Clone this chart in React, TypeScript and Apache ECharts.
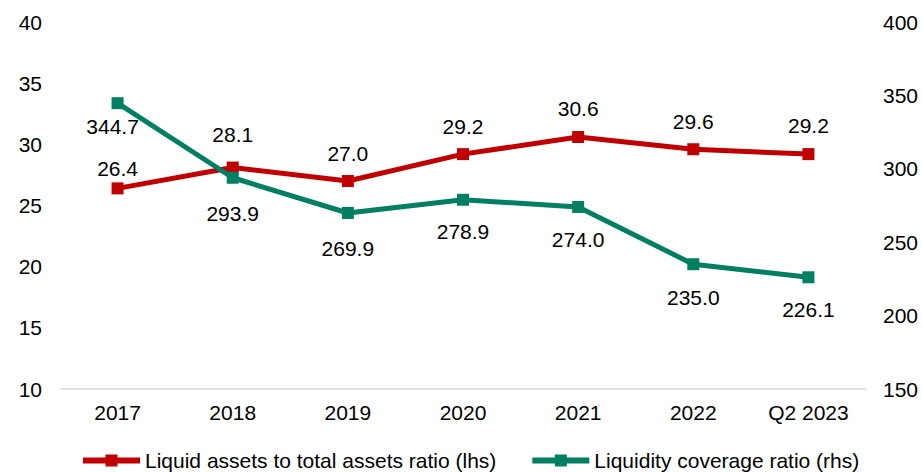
import React, { useEffect, useRef } from "react";
import * as echarts from "echarts";

const categories = ["2017", "2018", "2019", "2020", "2021", "2022", "Q2 2023"];
const liquidAssets = [26.4, 28.1, 27.0, 29.2, 30.6, 29.6, 29.2];
const lcr = [344.7, 293.9, 269.9, 278.9, 274.0, 235.0, 226.1];
const seriesNames = ["Liquid assets to total assets ratio (lhs)", "Liquidity coverage ratio (rhs)"];
const redLabelDistance = [3, 17, 11, 11, 12, 11, 12];
const greenLabelDistance = [7, 19, 19, 15, 16, 17, 16];

export default function App() {
  const ref = useRef<HTMLDivElement>(null);
  useEffect(() => {
    if (!ref.current) return;
    const chart = echarts.init(ref.current, undefined, { renderer: "svg" });
    const font = "'Liberation Sans', Arial, sans-serif";
    const txt = { color: "#000", fontSize: 21, fontFamily: font };
    const fmt = (p: any) => Number(p.value).toFixed(1);
    chart.setOption({
      animation: false,
      textStyle: { fontFamily: font },
      grid: { left: 60, right: 56, top: 22, bottom: 83, containLabel: false },
      legend: {
        top: 450,
        left: 80,
        padding: 0,
        itemWidth: 57,
        itemHeight: 15,
        itemGap: 33,
        lineStyle: { width: 6 },
        textStyle: { ...txt, lineHeight: 21 },
        data: seriesNames,
      },
      xAxis: {
        type: "category",
        data: categories,
        axisLine: { lineStyle: { color: "#d9d9d9", width: 1.5 } },
        axisTick: { show: false },
        axisLabel: { ...txt, margin: 13 },
      },
      yAxis: [
        {
          type: "value",
          min: 10,
          max: 40,
          interval: 5,
          splitLine: { show: false },
          axisLine: { show: false },
          axisTick: { show: false },
          axisLabel: { ...txt, margin: 18 },
        },
        {
          type: "value",
          min: 150,
          max: 400,
          interval: 50,
          splitLine: { show: false },
          axisLine: { show: false },
          axisTick: { show: false },
          axisLabel: { ...txt, margin: 17 },
        },
      ],
      series: [
        {
          name: seriesNames[0],
          type: "line",
          yAxisIndex: 0,
          data: liquidAssets.map((v, i) => ({ value: v, label: { distance: redLabelDistance[i] } })),
          color: "#c00000",
          lineStyle: { width: 5, color: "#c00000" },
          symbol: "rect",
          symbolSize: 12,
          itemStyle: { color: "#c00000" },
          label: { show: true, position: "top", ...txt, formatter: fmt },
          z: 2,
        },
        {
          name: seriesNames[1],
          type: "line",
          yAxisIndex: 1,
          data: lcr.map((v, i) => ({
            value: v,
            label: { distance: greenLabelDistance[i], offset: i === 0 ? [-5, 0] : [0, 0] },
          })),
          color: "#007f62",
          lineStyle: { width: 5, color: "#007f62" },
          symbol: "rect",
          symbolSize: 12,
          itemStyle: { color: "#007f62" },
          label: { show: true, position: "bottom", ...txt, formatter: fmt },
          z: 3,
        },
      ],
    });
    return () => chart.dispose();
  }, []);
  return (
    <div
      ref={ref}
      style={{ position: "fixed", left: 0, top: 0, width: 922, height: 472, background: "#fff" }}
    />
  );
}
